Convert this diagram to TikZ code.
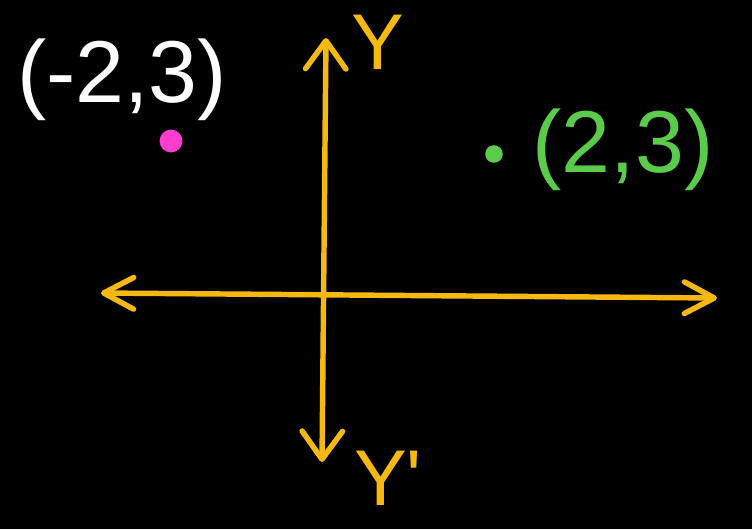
\documentclass[tikz,border=0pt]{standalone}
\usepackage{fontspec}
\setmainfont{Liberation Sans}
\usepackage{tikz}
\usetikzlibrary{arrows.meta,positioning,calc}
\definecolor{axisyellow}{HTML}{F7B90F}
\definecolor{dotpink}{HTML}{FF3DCF}
\definecolor{dotgreen}{HTML}{5BCB4C}

\begin{document}
\begin{tikzpicture}[x=0.02cm, y=-0.02cm,
  axis/.style 2 args={draw=axisyellow, line width=3.1pt, line cap=round,
    {Straight Barb[length=#1, width=#2, line width=3.1pt, round]}-{Straight Barb[length=#1, width=#2, line width=3.1pt, round]}},
  pt/.style={circle, inner sep=0pt, minimum size=#1},
  lbl/.style={font=\fontsize{#1}{#1}\selectfont, inner sep=0pt},
  ]
  \fill[black] (0,0) rectangle (752,529);
  \useasboundingbox (0,0) rectangle (752,529);
  % axes
  \coordinate (xl) at (101,293);
  \coordinate (xr) at (717,298);
  \coordinate (yt) at (326,38);
  \coordinate (yb) at (322,462);
  \draw[axis={17pt}{18pt}] (xl) -- (xr);
  \draw[axis={16pt}{23pt}] (yb) -- (yt);
  \node[lbl=45, text=axisyellow] (ylab) at (378,42) {Y};
  \node[lbl=45, text=axisyellow] (yplab) at (388,478) {Y\textquotesingle};
  % points
  \node[pt=13pt, fill=dotpink] (pa) at (171,141) {};
  \node[lbl=50, text=white] (la) at (122,80) {(-2,3)};
  \node[pt=10pt, fill=dotgreen] (pb) at (494,154) {};
  \node[lbl=50, text=dotgreen] (lb) at (623,150) {(2,3)};
\end{tikzpicture}
\end{document}
